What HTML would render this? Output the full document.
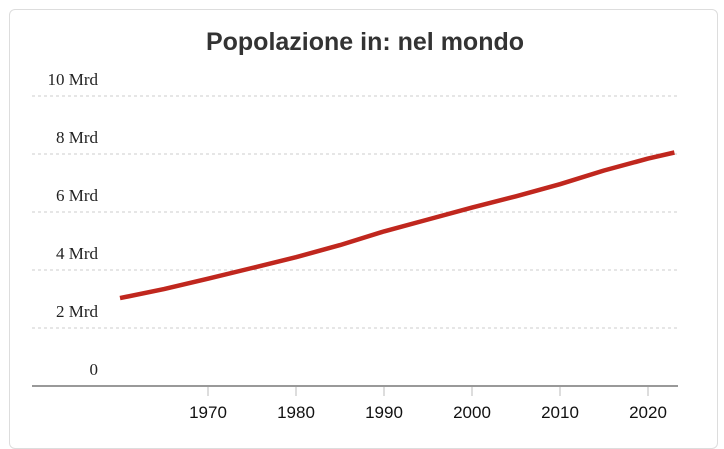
<!DOCTYPE html>
<html><head><meta charset="utf-8"><style>
body{margin:0;background:#fff;width:724px;height:436px;overflow:hidden}
.card{position:absolute;left:9px;top:9px;width:709px;height:440px;border:1px solid #ddd;border-radius:6px;box-sizing:border-box}
</style></head><body>
<div class="card"></div>
<svg id="chart" width="724" height="436" style="position:absolute;left:0;top:0">
<text x="365" y="50" text-anchor="middle" font-family="Liberation Sans, sans-serif" font-weight="bold" font-size="25" fill="#333">Popolazione in: nel mondo</text>
<g id="grid"></g><g id="xaxis"></g><g id="series"></g>
</svg>
<script>
const years=[1960,1965,1970,1975,1980,1985,1990,1995,2000,2005,2010,2015,2020,2023];
const population=[3.03,3.34,3.70,4.07,4.44,4.86,5.33,5.74,6.15,6.54,6.96,7.43,7.84,8.05];
const yTicks=[0,2,4,6,8,10];
const yTickLabels=["0","2 Mrd","4 Mrd","6 Mrd","8 Mrd","10 Mrd"];
const xTicks=[1970,1980,1990,2000,2010,2020];
const NS="http://www.w3.org/2000/svg";
const x=v=>120+(v-1960)*8.8;
const y=v=>386-v*29;
function mk(tag,attrs,parent){const e=document.createElementNS(NS,tag);for(const k in attrs)e.setAttribute(k,attrs[k]);parent.appendChild(e);return e;}
const grid=document.getElementById('grid');
yTicks.forEach((t,i)=>{
  if(t>0){const l=mk('line',{x1:32,x2:678,y1:y(t),y2:y(t),stroke:'#ccc','stroke-dasharray':'3,3'},grid);
  
  }
  const tx=mk('text',{x:98,y:y(t)-11,'text-anchor':'end','font-family':'Liberation Serif, serif','font-size':'17',fill:'#222'},grid);
  tx.textContent=yTickLabels[i];
  
  
});
const xa=document.getElementById('xaxis');
const ax=mk('line',{x1:32,x2:678,y1:386,y2:386,stroke:'#999','stroke-width':2},xa);


xTicks.forEach(t=>{
  const tk=mk('line',{x1:x(t),x2:x(t),y1:387,y2:396,stroke:'#bbb'},xa);
  
  
  const tx=mk('text',{x:x(t),y:418,'text-anchor':'middle','font-family':'Liberation Sans, sans-serif','font-size':'17',fill:'#111'},xa);
  tx.textContent=t;
  
  
});
const pts=years.map((yr,i)=>x(yr).toFixed(1)+','+y(population[i]).toFixed(1)).join(' ');
const pl=mk('polyline',{points:pts,fill:'none',stroke:'#c0271e','stroke-width':4.5,'stroke-linejoin':'round'},document.getElementById('series'));


</script>
</body></html>
